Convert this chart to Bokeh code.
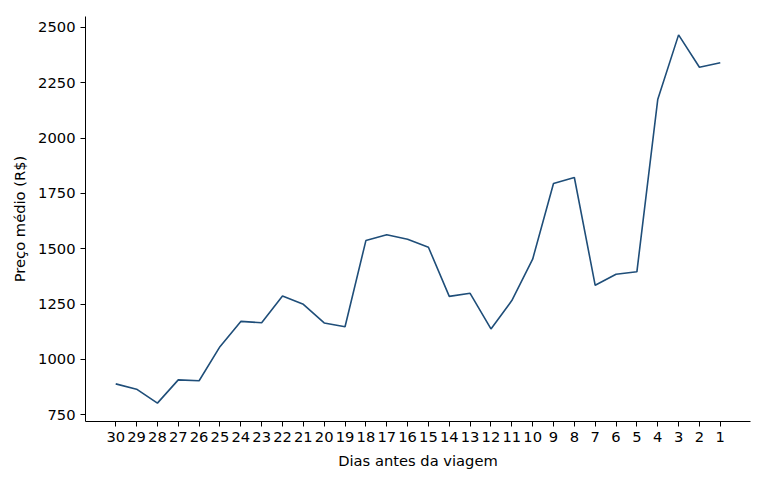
from bokeh.plotting import figure
from bokeh.models import Range1d, FixedTicker
from bokeh.embed import file_html
from bokeh.resources import INLINE

dias = [30, 29, 28, 27, 26, 25, 24, 23, 22, 21, 20, 19, 18, 17, 16,
        15, 14, 13, 12, 11, 10, 9, 8, 7, 6, 5, 4, 3, 2, 1]
preco = [890, 866, 803, 908, 904, 1058, 1172, 1166, 1287, 1249, 1165, 1148,
         1537, 1563, 1543, 1507, 1285, 1299, 1138, 1266, 1453, 1795, 1822,
         1335, 1385, 1396, 2174, 2466, 2320, 2340]
y_ticks = [750, 1000, 1250, 1500, 1750, 2000, 2250, 2500]

x = list(range(len(dias)))

p = figure(
    width=756,
    height=472,
    output_backend="svg",
    toolbar_location=None,
    x_range=Range1d(-1.45, len(dias) - 1 + 1.45),
    y_range=Range1d(720, 2549),
    min_border_left=85,
    min_border_right=6,
    min_border_top=16,
    min_border_bottom=51,
)

p.line(x, preco, line_color="#1f4e79", line_width=1.6)

p.xaxis.ticker = FixedTicker(ticks=x)
p.xaxis.major_label_overrides = {i: str(d) for i, d in zip(x, dias)}
p.yaxis.ticker = FixedTicker(ticks=y_ticks)

p.xaxis.axis_label = "Dias antes da viagem"
p.yaxis.axis_label = "Preço médio (R$)"

for ax in (p.xaxis, p.yaxis):
    ax.axis_label_text_font = "DejaVu Sans"
    ax.axis_label_text_font_style = "normal"
    ax.axis_label_text_font_size = "14.7px"
    ax.axis_label_text_color = "black"
    ax.major_label_text_font = "DejaVu Sans"
    ax.major_label_text_font_size = "14.7px"
    ax.major_label_text_color = "black"
    ax.axis_line_color = "black"
    ax.major_tick_line_color = "black"
    ax.major_tick_out = 5
    ax.major_tick_in = 0
    ax.minor_tick_line_color = None
    ax.major_label_standoff = 5
    ax.axis_label_standoff = 7

p.xgrid.grid_line_color = None
p.ygrid.grid_line_color = None
p.outline_line_color = None

open("out.html", "w").write(file_html(p, INLINE))
